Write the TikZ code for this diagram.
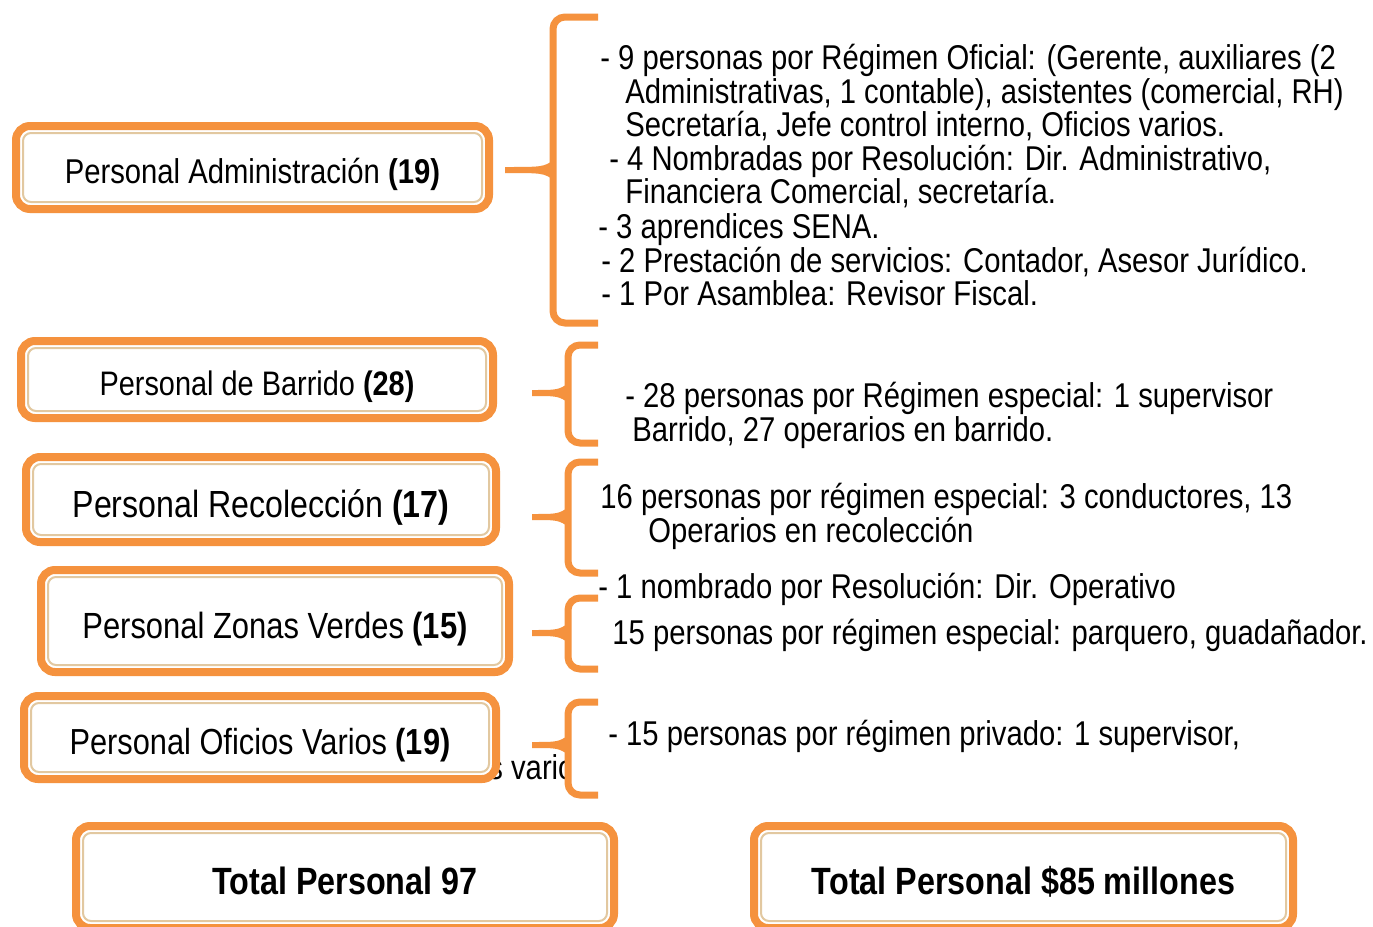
\documentclass[tikz,border=0pt]{standalone}
\usepackage{fontspec}
\setmainfont{Liberation Sans}[FakeStretch=0.85]
\usetikzlibrary{calc}
\definecolor{org}{RGB}{245,146,62}
\definecolor{tanl}{RGB}{226,200,160}
\tikzset{
  obox/.style={draw=org, line width=4pt, rounded corners=7pt, fill=white, inner sep=0pt, outer sep=0pt},
  innerline/.style={draw=tanl, line width=1pt, rounded corners=4pt},
  bracestyle/.style={draw=org, line width=3.5pt, rounded corners=6pt},
  rt/.style={anchor=base west, inner sep=0pt, font=\fontsize{17.2pt}{20pt}\selectfont},
  lbl/.style={font=\fontsize{#1}{20pt}\selectfont, text height=\dimexpr #1*94/100\relax, text depth=0pt},
}
\newcommand\mkbracket[6]{%
  \coordinate (#1v) at (#2,#5);
  \coordinate (#1s) at (#6,#5);
  \draw[bracestyle] (598,#3) -- (#2,#3) -- (#2,#4) -- (598,#4);
  \fill[org] ($(#1v)+(1,-10)$) .. controls ($(#1v)+(-10,-3)$) .. ($(#1s)+(0,-3)$)
     -- ($(#1s)+(0,3)$) .. controls ($(#1v)+(-10,3)$) .. ($(#1v)+(1,10)$) -- cycle;
}
\begin{document}
\begin{tikzpicture}[x=0.5pt,y=-0.5pt]
\useasboundingbox (0,0) rectangle (1373,927);
\fill[white] (0,0) rectangle (1373,927);

% hidden text fragment
\begin{scope}
\clip (470,740) rectangle (565,800);
\node[rt] (frag) at (488,779) {s varios};
\end{scope}

% left boxes
\node[obox, minimum width=236.5pt, minimum height=41.5pt, lbl=17.2pt] (A) at (252.5,167.5) {Personal Administración \textbf{(19)}};
\node[obox, minimum width=236pt, minimum height=38.5pt, lbl=17pt] (B) at (257,379.5) {Personal de Barrido \textbf{(28)}};
\node[obox, minimum width=235pt, minimum height=42.5pt, lbl=18.9pt] (C) at (261,499.5) {Personal Recolección \textbf{(17)}};
\node[obox, minimum width=234pt, minimum height=51pt, lbl=18.2pt] (D) at (275,621) {Personal Zonas Verdes \textbf{(15)}};
\node[obox, minimum width=236pt, minimum height=41.5pt, lbl=18.1pt] (E) at (260,737.5) {Personal Oficios Varios \textbf{(19)}};
\node[obox, minimum width=269pt, minimum height=51pt, lbl=19pt] (F) at (345,877) {\textbf{Total Personal 97}};
\node[obox, minimum width=269.5pt, minimum height=51pt, lbl=19pt] (G) at (1023.5,877) {\textbf{Total Personal \$85 millones}};
\foreach \n in {A,B,C,D,E,F,G}
  \draw[innerline] ([shift={(3.5pt,-3.5pt)}]\n.north west) rectangle ([shift={(-3.5pt,3.5pt)}]\n.south east);

% brackets
\mkbracket{bA}{553}{17}{323}{170}{505}
\mkbracket{bB}{568}{345}{443}{393}{532}
\mkbracket{bC}{568}{462}{573}{517}{532}
\mkbracket{bD}{568}{598}{669}{633}{532}
\mkbracket{bE}{568}{702}{795}{745}{532}

% right texts
\node[rt] (a1) at (600,69) {- 9 personas por Régimen Oficial: (Gerente, auxiliares (2};
\node[rt] (a2) at (625,103) {Administrativas, 1 contable), asistentes (comercial, RH)};
\node[rt] (a3) at (625,136) {Secretaría, Jefe control interno, Oficios varios.};
\node[rt] (a4) at (609,170) {- 4 Nombradas por Resolución: Dir. Administrativo,};
\node[rt] (a5) at (625,203) {Financiera Comercial, secretaría.};
\node[rt] (a6) at (598,238) {- 3 aprendices SENA.};
\node[rt] (a7) at (601,272) {- 2 Prestación de servicios: Contador, Asesor Jurídico.};
\node[rt] (a8) at (601,305) {- 1 Por Asamblea: Revisor Fiscal.};

\node[rt] (b1) at (625,407) {- 28 personas por Régimen especial: 1 supervisor};
\node[rt] (b2) at (632,441) {Barrido, 27 operarios en barrido.};

\node[rt] (c1) at (600,508) {16 personas por régimen especial: 3 conductores, 13};
\node[rt] (c2) at (648,542) {Operarios en recolección};

\node[rt] (d1) at (598,598) {- 1 nombrado por Resolución: Dir. Operativo};
\node[rt] (d2) at (612,644) {15 personas por régimen especial: parquero, guadañador.};

\node[rt] (e1) at (608,745) {- 15 personas por régimen privado: 1 supervisor,};
\end{tikzpicture}
\end{document}
